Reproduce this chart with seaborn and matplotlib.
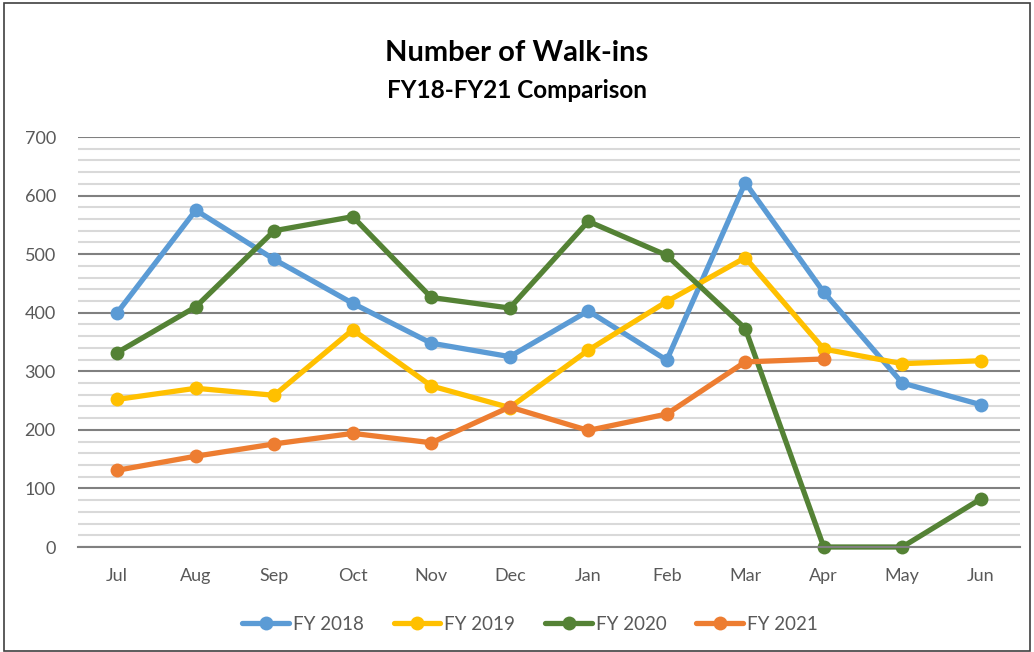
import pandas as pd
import numpy as np
import seaborn as sns
import matplotlib.pyplot as plt
from matplotlib.patches import Rectangle
from matplotlib.ticker import MultipleLocator

months = ['Jul', 'Aug', 'Sep', 'Oct', 'Nov', 'Dec', 'Jan', 'Feb', 'Mar', 'Apr', 'May', 'Jun']
fy2018 = [400, 575, 491, 416, 348, 325, 403, 319, 622, 435, 280, 243]
fy2019 = [252, 271, 259, 371, 275, 238, 336, 419, 494, 338, 313, 318]
fy2020 = [332, 410, 540, 564, 426, 408, 556, 498, 373, 0, 0, 82]
fy2021 = [131, 155, 176, 194, 178, 239, 199, 227, 316, 321, np.nan, np.nan]
series = ['FY 2018', 'FY 2019', 'FY 2020', 'FY 2021']
colors = ['#5b9bd5', '#ffc000', '#548235', '#ed7d31']

rows = []
for name, vals in zip(series, [fy2018, fy2019, fy2020, fy2021]):
    for m, v in zip(months, vals):
        rows.append({'Month': m, 'Walk-ins': v, 'Series': name})
df = pd.DataFrame(rows)

sns.set_style('white')
plt.rcParams['font.family'] = ['Lato', 'DejaVu Sans']

fig = plt.figure(figsize=(10.34, 6.52), dpi=100)
ax = fig.add_axes([78/1034, 105/652, 942/1034, 410/652])

sns.lineplot(data=df, x='Month', y='Walk-ins', hue='Series', palette=colors,
             marker='o', markersize=10, markeredgewidth=0, linewidth=3.8,
             sort=False, ax=ax, legend=False)
for ln in ax.lines:
    ln.set_clip_on(False)

ax.set_xlim(-0.5, 11.5)
ax.set_ylim(0, 700)
ax.yaxis.set_major_locator(MultipleLocator(100))
ax.yaxis.set_minor_locator(MultipleLocator(20))
ax.grid(which='minor', axis='y', color='#d9d9d9', linewidth=1.5)
ax.grid(which='major', axis='y', color='#808080', linewidth=1.5)
ax.set_axisbelow(True)
ax.xaxis.set_minor_locator(MultipleLocator(1, offset=0.5))
ax.tick_params(axis='x', which='major', length=0, pad=15, labelsize=13, labelcolor='#595959')
ax.tick_params(axis='x', which='minor', length=7, width=1.3, color='#808080', direction='out')
ax.tick_params(axis='y', which='both', length=0, pad=16, labelsize=13, labelcolor='#595959')
for s in ['top', 'right', 'left']:
    ax.spines[s].set_visible(False)
ax.spines['bottom'].set_color('#808080')
ax.spines['bottom'].set_linewidth(1.5)
ax.set_xlabel('')
ax.set_ylabel('')

fig.text(0.5, 1 - 53/652, 'Number of Walk-ins', ha='center', va='center',
         fontsize=21, fontweight='bold', color='black')
fig.text(0.5, 1 - 90/652, 'FY18-FY21 Comparison', ha='center', va='center',
         fontsize=17.5, fontweight='bold', color='black')

handles = [plt.Line2D([], [], color=c, marker='o', markersize=10, markeredgewidth=0, linewidth=3.8)
           for c in colors]
leg = fig.legend(handles, series, loc='center', bbox_to_anchor=(530/1034, 1 - 624/652), ncol=4,
                 frameon=False, handlelength=2.5, columnspacing=1.6, handletextpad=0.2,
                 fontsize=13.5)
for t in leg.get_texts():
    t.set_color('#595959')

fig.patches.append(Rectangle((0.004, 0.002), 0.992, 0.994, transform=fig.transFigure,
                             fill=False, edgecolor='#404040', linewidth=1.2))

fig.savefig('out.png', dpi=100)
